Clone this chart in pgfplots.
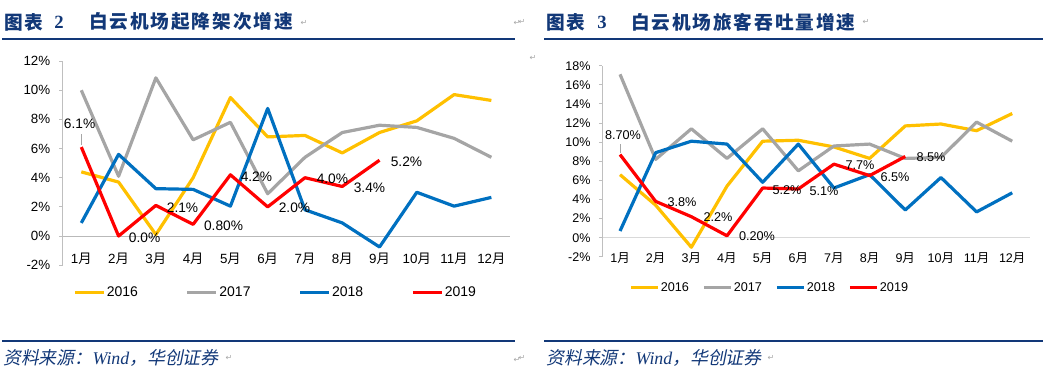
\documentclass[border=0pt]{standalone}
\usepackage{fontspec}
\usepackage{pgfplots}
\pgfplotsset{compat=1.18}
\setmainfont{Liberation Sans}
\newfontfamily\cjk{Noto Sans CJK SC}
\newfontfamily\cjktitle[LetterSpace=10]{Noto Sans CJK SC}
\newfontfamily\cjkit[FakeSlant=0.2]{Noto Sans CJK SC}
\newfontfamily\serif{Liberation Serif}
\newfontfamily\dv{DejaVu Sans}
\definecolor{navy}{RGB}{18,56,120}
\definecolor{c16}{HTML}{FFC000}
\definecolor{c17}{HTML}{A5A5A5}
\definecolor{c18}{HTML}{0070C0}
\definecolor{c19}{HTML}{FF0000}
\newcommand\yue{{\cjk 月}}
\pgfplotsset{
  series/.style={line width=2.4pt, line join=round},
  mychart/.style={
    scale only axis, clip=false,
    xmin=0.5, xmax=12.5,
    axis x line=middle, axis y line=left,
    hide obscured x ticks=false, hide obscured y ticks=false,
    x axis line style={-, draw=gray!55, line width=0.75pt},
    y axis line style={-, draw=gray!50, line width=0.75pt},
    xtick={1,...,12},
    xticklabels={1\yue,2\yue,3\yue,4\yue,5\yue,6\yue,7\yue,8\yue,9\yue,10\yue,11\yue,12\yue},
    xtick style={draw=none},
    ytick style={draw=gray!50, line width=0.75pt},
    tick align=outside, major tick length=2.5pt,
    /pgf/number format/assume math mode=true,
    yticklabel={\pgfmathprintnumber{\tick}\%},
    legend style={draw=none, fill=none, legend columns=4, inner sep=0pt,
      nodes={inner sep=1pt}},
    legend image code/.code={\draw[##1, line width=2.4pt] (0pt,0pt) -- (\leglen,0pt);},
    visualization depends on={value \thisrow{dx} \as \dx},
    visualization depends on={value \thisrow{dy} \as \dy},
  },
  labelled/.style={point meta=explicit symbolic,
    nodes near coords={\pgfplotspointmeta\%},
    every node near coord/.append style={anchor=center, text=black,
      xshift=\dx pt, yshift=\dy pt, inner sep=0pt, font=#1}},
}
\begin{document}
\begin{tikzpicture}
\useasboundingbox (0,0) rectangle (782.25pt,-281.25pt);
\begin{scope}[x=0.75pt,y=-0.75pt]
  % titles
  \node[anchor=west, inner sep=0, text=navy, font=\cjktitle\bfseries\fontsize{14}{16}\selectfont] at (4,22) {图表};
  \node[anchor=west, inner sep=0, text=navy, font=\serif\bfseries\fontsize{14}{16}\selectfont] at (54,22) {2};
  \node[anchor=west, inner sep=0, text=navy, font=\cjktitle\bfseries\fontsize{14}{16}\selectfont] at (89,22) {白云机场起降架次增速};
  \node[anchor=west, inner sep=0, text=navy, font=\cjktitle\bfseries\fontsize{14}{16}\selectfont] at (546,22) {图表};
  \node[anchor=west, inner sep=0, text=navy, font=\serif\bfseries\fontsize{14}{16}\selectfont] at (597,22) {3};
  \node[anchor=west, inner sep=0, text=navy, font=\cjktitle\bfseries\fontsize{14}{16}\selectfont] at (631,22) {白云机场旅客吞吐量增速};
  % rules
  \draw[navy, line width=1.7pt] (2,38.7) -- (515,38.7);
  \draw[navy, line width=1.7pt] (544,38.7) -- (1043,38.7);
  \draw[navy, line width=1.7pt] (2,341.2) -- (515,341.2);
  \draw[navy, line width=1.7pt] (544,341.2) -- (1043,341.2);
  % footers
  \node[anchor=west, inner sep=0, text=navy, font=\fontsize{13.4}{15}\selectfont] at (3,358)
    {{\cjkit 资料来源：}{\serif\itshape Wind}{\cjkit ，华创证券}};
  \node[anchor=west, inner sep=0, text=navy, font=\fontsize{13.4}{15}\selectfont] at (546,358)
    {{\cjkit 资料来源：}{\serif\itshape Wind}{\cjkit ，华创证券}};
  % paragraph marks
  \foreach \px/\py in {304/23,517/23,522/22,866/22,533/58,229/358,517/360,522/358,771/358}
    \node[inner sep=0, text=gray!70, font=\dv\fontsize{6}{7}\selectfont] at (\px,\py) {↵};
\end{scope}

%================ LEFT CHART ================
\def\leglen{21.75pt}
\begin{axis}[mychart,
  at={(47.0pt,-198.9pt)}, anchor=south west,
  width=335.5pt, height=153.1pt,
  ymin=-2, ymax=12, ytick={-2,0,...,12},
  tick label style={font=\fontsize{10}{12}\selectfont},
  yticklabel style={xshift=-3.3pt},
  xticklabel style={yshift=-6.5pt},
  legend style={at={(0.023,-0.1347)}, anchor=west,
    font=\fontsize{10.5}{12}\selectfont,
    /tikz/every even column/.append style={column sep=35pt}},
]
\addplot[series, c16] table[row sep=\\] {x y dx dy\\ 1 4.4 0 0\\ 2 3.7 0 0\\ 3 0.1 0 0\\ 4 4.0 0 0\\ 5 9.5 0 0\\ 6 6.8 0 0\\ 7 6.9 0 0\\ 8 5.7 0 0\\ 9 7.1 0 0\\ 10 7.9 0 0\\ 11 9.7 0 0\\ 12 9.3 0 0\\};
\addlegendentry{2016}
\addplot[series, c17] table[row sep=\\] {x y dx dy\\ 1 10.0 0 0\\ 2 4.1 0 0\\ 3 10.85 0 0\\ 4 6.6 0 0\\ 5 7.8 0 0\\ 6 2.9 0 0\\ 7 5.4 0 0\\ 8 7.1 0 0\\ 9 7.6 0 0\\ 10 7.45 0 0\\ 11 6.7 0 0\\ 12 5.4 0 0\\};
\addlegendentry{2017}
\addplot[series, c18] table[row sep=\\] {x y dx dy\\ 1 0.9 0 0\\ 2 5.6 0 0\\ 3 3.25 0 0\\ 4 3.2 0 0\\ 5 2.05 0 0\\ 6 8.75 0 0\\ 7 1.8 0 0\\ 8 0.9 0 0\\ 9 -0.75 0 0\\ 10 3.0 0 0\\ 11 2.05 0 0\\ 12 2.65 0 0\\};
\addlegendentry{2018}
\addplot[series, c19, labelled={\fontsize{10.3}{12}\selectfont}] table[row sep=\\, meta=lab] {x y lab dx dy\\
 1 6.1 6.1 -1.3 17.6\\ 2 0.0 0.0 19.5 -1.5\\ 3 2.1 2.1 20 -1.4\\ 4 0.8 0.80 22.8 -1.3\\ 5 4.2 4.2 19.5 -1.2\\
 6 2.0 2.0 20.1 -1.0\\ 7 4.0 4.0 20.6 -0.5\\ 8 3.4 3.4 20.4 -0.7\\ 9 5.2 5.2 20.2 -1.0\\};
\addlegendentry{2019}
\draw[gray!70, line width=0.5pt] ([yshift=1.5pt]axis cs:1,6.1) -- ([yshift=10pt]axis cs:1,6.1);
\end{axis}

%================ RIGHT CHART ================
\def\leglen{20.25pt}
\begin{axis}[mychart,
  at={(451.65pt,-192.6pt)}, anchor=south west,
  width=320.9pt, height=143.3pt,
  ymin=-2, ymax=18, ytick={-2,0,...,18},
  tick label style={font=\fontsize{9.4}{11}\selectfont},
  yticklabel style={xshift=-2.8pt},
  xticklabel style={yshift=-5.5pt},
  x axis line style={draw=gray!30},
  legend style={at={(0.0626,-0.162)}, anchor=west,
    font=\fontsize{9.5}{11}\selectfont,
    /tikz/every even column/.append style={column sep=9pt}},
]
\addplot[series, c16] table[row sep=\\] {x y dx dy\\ 1 6.6 0 0\\ 2 3.4 0 0\\ 3 -1.0 0 0\\ 4 5.4 0 0\\ 5 10.1 0 0\\ 6 10.2 0 0\\ 7 9.5 0 0\\ 8 8.3 0 0\\ 9 11.7 0 0\\ 10 11.9 0 0\\ 11 11.2 0 0\\ 12 13.0 0 0\\};
\addlegendentry{2016}
\addplot[series, c17] table[row sep=\\] {x y dx dy\\ 1 17.1 0 0\\ 2 8.2 0 0\\ 3 11.4 0 0\\ 4 8.3 0 0\\ 5 11.4 0 0\\ 6 7.0 0 0\\ 7 9.6 0 0\\ 8 9.8 0 0\\ 9 8.3 0 0\\ 10 8.4 0 0\\ 11 12.1 0 0\\ 12 10.1 0 0\\};
\addlegendentry{2017}
\addplot[series, c18] table[row sep=\\] {x y dx dy\\ 1 0.7 0 0\\ 2 8.9 0 0\\ 3 10.1 0 0\\ 4 9.8 0 0\\ 5 5.8 0 0\\ 6 9.8 0 0\\ 7 5.2 0 0\\ 8 6.6 0 0\\ 9 2.9 0 0\\ 10 6.3 0 0\\ 11 2.7 0 0\\ 12 4.7 0 0\\};
\addlegendentry{2018}
\addplot[series, c19, labelled={\fontsize{9.5}{11}\selectfont}] table[row sep=\\, meta=lab] {x y lab dx dy\\
 1 8.7 8.70 2.25 14.6\\ 2 3.8 3.8 19.7 -0.45\\ 3 2.2 2.2 20 -0.2\\ 4 0.2 0.20 22.5 -0.15\\ 5 5.2 5.2 18.3 -1.5\\
 6 5.1 5.1 19.3 -1.3\\ 7 7.7 7.7 19.5 -0.7\\ 8 6.5 6.5 19 -0.8\\ 9 8.5 8.5 19.3 -0.2\\};
\addlegendentry{2019}
\draw[gray!70, line width=0.5pt] ([yshift=1.5pt]axis cs:1,8.7) -- ([yshift=8pt]axis cs:1,8.7);
\end{axis}
\end{tikzpicture}
\end{document}
